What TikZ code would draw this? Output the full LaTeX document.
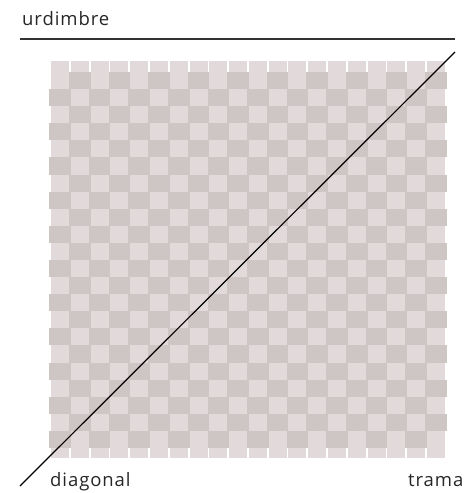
\documentclass[tikz,border=0pt]{standalone}
\usepackage{fontspec}
\setmainfont[LetterSpace=5]{Open Sans}
\usepackage{tikz}
\usetikzlibrary{calc}
\definecolor{warplight}{RGB}{226,218,218}
\definecolor{weftdark}{RGB}{206,197,197}
\definecolor{rulegray}{RGB}{51,51,51}
\tikzset{
  %% ---- threads ----
  warp/.style = {fill=warplight, draw=none},
  weft/.style = {fill=weftdark, draw=none},
  %% ---- lines and labels ----
  rule/.style = {line width=1.3pt, color=rulegray},
  diag/.style = {line width=1.2pt, color=black},
  lbl/.style  = {anchor=base west, inner sep=0pt, text=black!85,
                 font=\fontsize{18.5}{22}\selectfont},
}

\begin{document}
\begin{tikzpicture}[x=1pt, y=-1pt]
\useasboundingbox (0,0) rectangle (465,493);
%% warp columns
\foreach \i in {0,...,19} {
  \fill[warp] ({51+\i*19.79},61) rectangle +(18,397);
}
%% weft rows, crossing over and under
\foreach \j in {0,...,21} {
  \pgfmathsetmacro{\yy}{72+\j*17.09}
  \fill[weft] (51,\yy) rectangle (445,{\yy+17.09});
  \foreach \i in {0,...,19} {
    \pgfmathsetmacro{\xx}{51+\i*19.79}
    \pgfmathtruncatemacro{\odd}{mod(\i+\j,2)}
    \ifnum\odd=0
      \fill[warp] (\xx,\yy) rectangle ({\xx+18},{\yy+17.09});
    \else
      \fill[weft] ({\xx-1.8},\yy) rectangle ({\xx+19.8},{\yy+17.09});
    \fi
  }
}
\coordinate (ruleL) at (20,39);
\coordinate (ruleR) at (455,39);
\coordinate (diagL) at (20,486);
\coordinate (diagR) at (455,52);
\draw[rule] (ruleL) -- (ruleR);
\draw[diag] (diagL) -- (diagR);
\node[lbl] (urdimbre) at (22,25)  {urdimbre};
\node[lbl] (diagonal) at (50,486) {diagonal};
\node[lbl] (trama)    at (408,486) {trama};
\end{tikzpicture}
\end{document}
